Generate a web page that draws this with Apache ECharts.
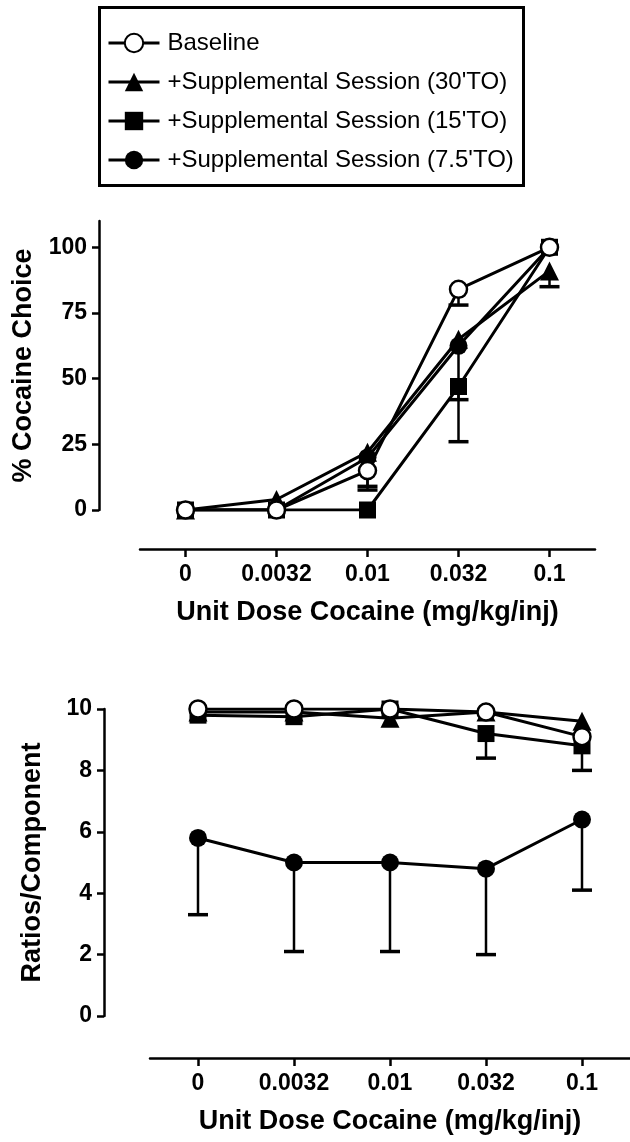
<!DOCTYPE html>
<html>
<head>
<meta charset="utf-8">
<script src="https://cdn.jsdelivr.net/npm/echarts@6/dist/echarts.min.js"></script>
<style>
html,body{margin:0;padding:0;background:#fff;}
#c{width:630px;height:1142px;}
</style>
</head>
<body>
<div id="c"></div>
<script>
// ---- data ----
const doseLabels = ['0', '0.0032', '0.01', '0.032', '0.1'];
const seriesNames = ['Baseline', '+Supplemental Session (30\'TO)', '+Supplemental Session (15\'TO)', '+Supplemental Session (7.5\'TO)'];

// % cocaine choice (top panel)
const choiceBaseline = [0, 0, 15, 84, 100];
const choice30 = [0, 4, 22, 65, 91];
const choice15 = [0, 0, 0, 47, 100];
const choice75 = [0, 0, 20, 62.5, 100];
// lower ends of error bars (null = none visible)
const choiceBaselineLow = [null, null, 9, 78, null];
const choice30Low = [null, null, null, null, 85];
const choice15Low = [null, null, null, 26, null];
const choice75Low = [null, null, 7.6, 42, null];

// ratios/component (bottom panel)
const ratioBaseline = [10, 10, 10, 9.9, 9.1];
const ratio30 = [9.9, 9.9, 9.7, 9.9, 9.6];
const ratio15 = [9.8, 9.75, 10, 9.2, 8.8];
const ratio75 = [5.8, 5.0, 5.0, 4.8, 6.4];
const ratio15Low = [null, null, null, 8.4, 8.0];
const ratio75Low = [3.3, 2.1, 2.1, 2.0, 4.1];

const choiceTicks = [0, 25, 50, 75, 100];

// ---- styles ----
const FONT = "'Liberation Sans', Arial, sans-serif";
const BLACK = '#000';
const styles = {
  base: {symbol: 'circle', symbolSize: 17, itemStyle: {color: '#fff', borderColor: BLACK, borderWidth: 2.5}},
  t30: {symbol: 'triangle', symbolSize: 19, itemStyle: {color: BLACK, borderWidth: 0}},
  t15: {symbol: 'rect', symbolSize: 17, itemStyle: {color: BLACK, borderWidth: 0}},
  t75: {symbol: 'circle', symbolSize: 18, itemStyle: {color: BLACK, borderWidth: 0}}
};

function lineSeries(name, data, st, gi, z) {
  return {
    type: 'line', name: name, data: data,
    xAxisIndex: gi, yAxisIndex: gi,
    symbol: st.symbol, symbolSize: st.symbolSize,
    itemStyle: st.itemStyle,
    lineStyle: {color: BLACK, width: 3},
    z: z, animation: false, showAllSymbol: true
  };
}

function errSeries(vals, lows, gi) {
  const d = [];
  vals.forEach((v, i) => { if (lows[i] != null) d.push([i, v, lows[i]]); });
  return {
    type: 'custom', xAxisIndex: gi, yAxisIndex: gi, z: 1, animation: false,
    silent: true,
    data: d,
    renderItem: function (params, api) {
      const p0 = api.coord([api.value(0), api.value(1)]);
      const p1 = api.coord([api.value(0), api.value(2)]);
      return {
        type: 'group',
        children: [
          {type: 'line', shape: {x1: p0[0], y1: p0[1], x2: p1[0], y2: p1[1]}, style: {stroke: BLACK, lineWidth: 2.5}},
          {type: 'line', shape: {x1: p1[0] - 10, y1: p1[1], x2: p1[0] + 10, y2: p1[1]}, style: {stroke: BLACK, lineWidth: 3.5}}
        ]
      };
    }
  };
}

const axisLineStyle = {color: BLACK, width: 2.5};
const tickLabelStyle = {color: BLACK, fontFamily: FONT, fontWeight: 'bold', fontSize: 23};
const nameStyle = {color: BLACK, fontFamily: FONT, fontWeight: 'bold', fontSize: 27};

function xAxisFor(gi, offset) {
  return {
    type: 'category', gridIndex: gi, data: doseLabels, boundaryGap: true,
    position: 'bottom', offset: offset,
    axisLine: {show: true, onZero: false, lineStyle: axisLineStyle},
    axisTick: {show: true, alignWithLabel: true, interval: 0, length: 8, lineStyle: {color: BLACK, width: 2.5}},
    axisLabel: Object.assign({margin: 14, interval: 0, hideOverlap: false}, tickLabelStyle),
    splitLine: {show: false},
    name: 'Unit Dose Cocaine (mg/kg/inj)', nameLocation: 'middle', nameGap: 50,
    nameTextStyle: nameStyle
  };
}

const option = {
  backgroundColor: '#fff',
  animation: false,
  textStyle: {fontFamily: FONT},
  graphic: [{
    type: 'rect', left: 97, top: 5, shape: {x: 0, y: 0, width: 424, height: 178},
    style: {fill: 'none', stroke: BLACK, lineWidth: 3}, z: 0
  }],
  legend: {
    orient: 'vertical', left: 107, top: 31, padding: 0,
    data: seriesNames,
    itemWidth: 51, itemHeight: 23, itemGap: 15,
    lineStyle: {color: BLACK, width: 3},
    textStyle: {color: BLACK, fontFamily: FONT, fontSize: 24, padding: [0, 0, 0, 3]},
    selectedMode: false
  },
  grid: [
    {left: 140, right: 35, top: 221, height: 289, containLabel: false},
    {left: 150, right: 0, top: 709, height: 307, containLabel: false}
  ],
  xAxis: [xAxisFor(0, 39), xAxisFor(1, 42)],
  yAxis: [
    {
      type: 'value', gridIndex: 0, min: 0, max: 110, offset: 41,
      axisLine: {show: true, lineStyle: axisLineStyle},
      axisTick: {show: true, length: 7, lineStyle: {color: BLACK, width: 2.5}, customValues: choiceTicks},
      axisLabel: Object.assign({margin: 12, customValues: choiceTicks}, tickLabelStyle),
      splitLine: {show: false},
      name: '% Cocaine Choice', nameLocation: 'middle', nameGap: 62, nameRotate: 90,
      nameTextStyle: nameStyle
    },
    {
      type: 'value', gridIndex: 1, min: 0, max: 10, interval: 2, offset: 46,
      axisLine: {show: true, lineStyle: axisLineStyle},
      axisTick: {show: true, length: 7, lineStyle: {color: BLACK, width: 2.5}},
      axisLabel: Object.assign({margin: 12}, tickLabelStyle),
      splitLine: {show: false},
      name: 'Ratios/Component', nameLocation: 'middle', nameGap: 58, nameRotate: 90,
      nameTextStyle: nameStyle
    }
  ],
  series: [
    errSeries(choice30, choice30Low, 0),
    errSeries(choice15, choice15Low, 0),
    errSeries(choice75, choice75Low, 0),
    errSeries(choiceBaseline, choiceBaselineLow, 0),
    lineSeries(seriesNames[1], choice30, styles.t30, 0, 2),
    lineSeries(seriesNames[2], choice15, styles.t15, 0, 3),
    lineSeries(seriesNames[3], choice75, styles.t75, 0, 4),
    lineSeries(seriesNames[0], choiceBaseline, styles.base, 0, 5),

    errSeries(ratio15, ratio15Low, 1),
    errSeries(ratio75, ratio75Low, 1),
    lineSeries(seriesNames[1], ratio30, styles.t30, 1, 2),
    lineSeries(seriesNames[2], ratio15, styles.t15, 1, 3),
    lineSeries(seriesNames[3], ratio75, styles.t75, 1, 4),
    lineSeries(seriesNames[0], ratioBaseline, styles.base, 1, 5)
  ]
};

const chart = echarts.init(document.getElementById('c'), null, {renderer: 'canvas'});
chart.setOption(option);
</script>
</body>
</html>
